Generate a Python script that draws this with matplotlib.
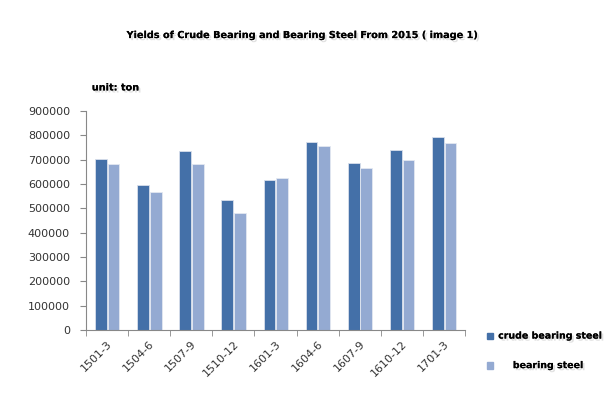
import numpy as np
import matplotlib
matplotlib.use("Agg")
import matplotlib.pyplot as plt
import matplotlib.patheffects as pe

periodos = ["1501-3", "1504-6", "1507-9", "1510-12", "1601-3",
            "1604-6", "1607-9", "1610-12", "1701-3"]
crudo = [704000, 598000, 738000, 535000, 615000, 772000, 687000, 742000, 793000]
acero = [683000, 569000, 683000, 480000, 624000, 756000, 667000, 697000, 768000]

oscuro = "#4470a8"
claro = "#94aad2"
sombra = [pe.withSimplePatchShadow(offset=(1.5, -1.5), shadow_rgbFace="#888888", alpha=0.25), pe.Normal()]

fig = plt.figure(figsize=(6.12, 3.94), dpi=100)
ax = fig.add_axes([0.1405, 0.1624, 0.6195, 0.5556])

x = np.arange(len(periodos))
ancho = 0.28
ax.bar(x - 0.145, crudo, ancho, color=oscuro, edgecolor="#d8dfeb", linewidth=0.6)
ax.bar(x + 0.155, acero, ancho, color=claro, edgecolor="#e3e8f1", linewidth=0.6)

ax.set_xlim(-0.5, len(periodos) - 0.5)
ax.set_ylim(0, 900000)
ax.set_yticks(np.arange(0, 900001, 100000))
ax.set_yticklabels([str(v) for v in range(0, 900001, 100000)], fontsize=8, color="#333333")

ax.set_xticks(x)
ax.set_xticklabels(periodos, rotation=45, ha="right", rotation_mode="anchor",
                   fontsize=8, color="#333333")
ax.tick_params(axis="x", length=0, pad=6)
ax.set_xticks(np.arange(-0.5, len(periodos)), minor=True)
ax.tick_params(axis="x", which="minor", length=4, color="#888888")
ax.tick_params(axis="y", length=4, color="#888888", pad=7.5)

for lado in ["top", "right"]:
    ax.spines[lado].set_visible(False)
ax.spines["left"].set_color("#888888")
ax.spines["bottom"].set_color("#888888")

fig.text(0.495, 0.911, "Yields of Crude Bearing and Bearing Steel From 2015 ( image 1)",
         ha="center", va="center", fontsize=7, fontweight="bold", path_effects=sombra)
fig.text(0.150, 0.778, "unit: ton", ha="left", va="center", fontsize=7,
         fontweight="bold", path_effects=sombra)

# leyenda manual abajo a la derecha
fig.patches.append(plt.Rectangle((0.795, 0.139), 0.011, 0.017, color=oscuro,
                                 transform=fig.transFigure))
fig.patches.append(plt.Rectangle((0.795, 0.064), 0.011, 0.017, color=claro,
                                 transform=fig.transFigure))
fig.text(0.814, 0.147, "crude bearing steel", ha="left", va="center", fontsize=6.8,
         fontweight="bold", path_effects=sombra)
fig.text(0.838, 0.072, "bearing steel", ha="left", va="center", fontsize=6.8,
         fontweight="bold", path_effects=sombra)

fig.savefig("out.png", dpi=100)
